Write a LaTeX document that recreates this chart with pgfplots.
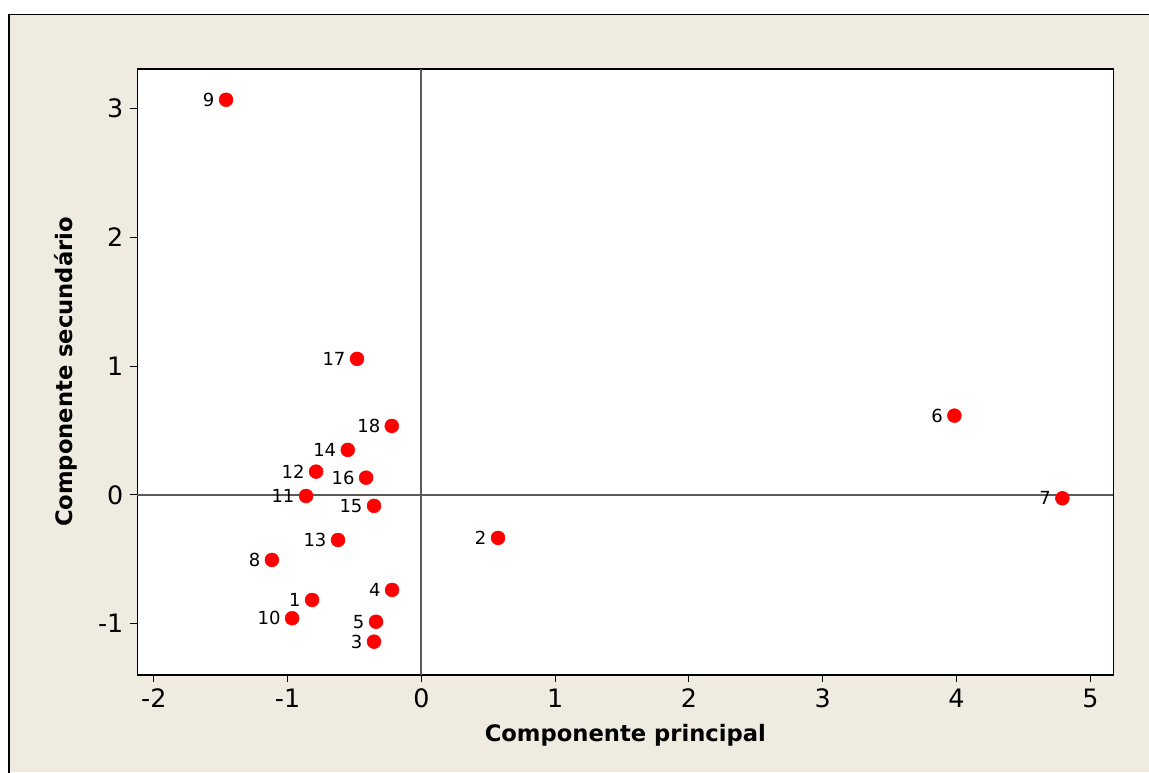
\documentclass[border=0pt]{standalone}
\usepackage{pgfplots}
\pgfplotsset{compat=1.18}
\usepackage{fontspec}
\setmainfont{DejaVu Sans}
\definecolor{bgbeige}{RGB}{239,235,224}
\definecolor{refgray}{RGB}{90,90,90}
\definecolor{ptred}{RGB}{255,0,0}
\begin{document}
\begin{tikzpicture}
\useasboundingbox (0,0) rectangle (861.75pt,579pt);
\fill[white] (0,0) rectangle (861.75pt,579pt);
\fill[bgbeige] (6.9pt,0) rectangle (870pt,568pt);
\draw[line width=1.1pt] (6.9pt,-5pt) -- (6.9pt,568pt) -- (870pt,568pt);
\begin{axis}[
  at={(103pt,72.75pt)}, anchor=south west,
  scale only axis, width=732pt, height=454.5pt,
  xmin=-2.123, xmax=5.172, ymin=-1.399, ymax=3.309,
  xtick={-2,-1,0,1,2,3,4,5}, ytick={-1,0,1,2,3},
  xtick pos=bottom, ytick pos=left,
  tick align=outside, major tick length=5.5pt,
  tick style={black, line width=0.8pt},
  axis line style={line width=1pt},
  axis background/.style={fill=white},
  /pgf/number format/assume math mode=true,
  tick label style={font=\fontsize{19}{19}\selectfont},
  xticklabel style={yshift=-1.5pt},
  yticklabel style={xshift=-1.5pt},
  xlabel={\bfseries Componente principal},
  ylabel={\bfseries Componente secundário},
  label style={font=\fontsize{17}{17}\selectfont},
  xlabel style={at={(axis description cs:0.5,-0.099)}, anchor=center},
  ylabel style={at={(axis description cs:-0.0737,0.5)}, anchor=center},
  clip=false,
]
\addplot[refgray, line width=1.4pt] coordinates {(0,-1.399) (0,3.309)};
\addplot[refgray, line width=1.4pt] coordinates {(-2.123,0) (5.172,0)};
\addplot[only marks, mark=*, mark size=5.2pt, color=ptred,
  nodes near coords, point meta=explicit symbolic,
  every node near coord/.style={anchor=east, inner sep=0pt, xshift=-8.5pt, text=black,
    font=\fontsize{13.5}{13.5}\selectfont}]
  table[meta=lab] {
x y lab
-0.817 -0.816 1
0.573 -0.334 2
-0.354 -1.140 3
-0.219 -0.738 4
-0.339 -0.985 5
3.984 0.616 6
4.791 -0.026 7
-1.117 -0.505 8
-1.460 3.070 9
-0.966 -0.958 10
-0.862 -0.008 11
-0.787 0.181 12
-0.623 -0.350 13
-0.550 0.350 14
-0.354 -0.085 15
-0.413 0.134 16
-0.481 1.057 17
-0.221 0.536 18
};
\end{axis}
\end{tikzpicture}
\end{document}
